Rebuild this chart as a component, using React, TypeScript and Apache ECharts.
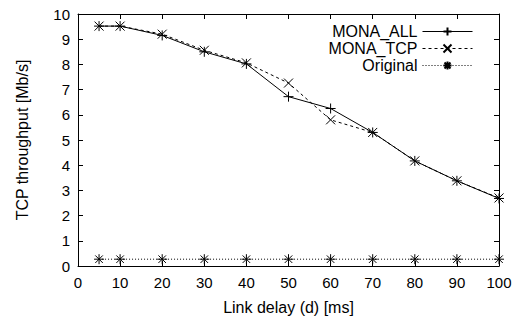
import React, { useEffect, useRef } from "react";
import * as echarts from "echarts";

const delays = [5, 10, 20, 30, 40, 50, 60, 70, 80, 90, 100];
const monaAll = [9.52, 9.52, 9.15, 8.5, 8.02, 6.72, 6.25, 5.3, 4.17, 3.38, 2.68];
const monaTcp = [9.52, 9.52, 9.2, 8.56, 8.06, 7.26, 5.8, 5.3, 4.17, 3.38, 2.7];
const original = [0.27, 0.27, 0.27, 0.27, 0.27, 0.27, 0.27, 0.27, 0.27, 0.27, 0.27];

const FONT = "'Liberation Sans', Arial, Helvetica, sans-serif";
const PLUS = "path://M0,-1L0,1M-1,0L1,0";
const CROSS = "path://M-1,-1L1,1M-1,1L1,-1";
const STAR = "path://M0,-1L0,1M-1,0L1,0M-0.75,-0.75L0.75,0.75M-0.75,0.75L0.75,-0.75";

export default function App() {
  const ref = useRef<HTMLDivElement>(null);
  useEffect(() => {
    if (!ref.current) return;
    const chart = echarts.init(ref.current, undefined, { renderer: "svg" });
    const pairs = (ys: number[]) => delays.map((x, i) => [x, ys[i]]);
    const mk = (name: string, ys: number[], symbol: string, size: number, type: any) => ({
      name,
      type: "line",
      data: pairs(ys),
      symbol,
      symbolSize: size,
      showSymbol: true,
      lineStyle: { color: "#000", width: 1, type },
      itemStyle: { color: "#000", borderColor: "#000", borderWidth: 1 },
      emphasis: { disabled: true },
      z: 3,
    });
    const tickStyle = { show: true, inside: true, length: 5, lineStyle: { color: "#000", width: 1 } };
    chart.setOption({
      animation: false,
      backgroundColor: "#fff",
      textStyle: { fontFamily: FONT },
      grid: { left: 78, right: 18, top: 14, bottom: 54, containLabel: false },
      legend: {
        orient: "vertical",
        right: 39,
        top: 18,
        align: "right",
        itemWidth: 50,
        itemHeight: 10,
        itemGap: 0,
        lineStyle: { width: 1 },
        textStyle: { fontFamily: FONT, fontSize: 16, color: "#000", lineHeight: 17 },
        data: ["MONA_ALL", "MONA_TCP", "Original"],
      },
      xAxis: [
        {
          type: "value",
          min: 0,
          max: 100,
          interval: 10,
          position: "bottom",
          name: "Link delay (d) [ms]",
          nameLocation: "middle",
          nameGap: 33,
          nameTextStyle: { fontFamily: FONT, fontSize: 16, color: "#000" },
          axisLine: { show: true, onZero: false, lineStyle: { color: "#000", width: 1 } },
          axisTick: tickStyle,
          axisLabel: { fontFamily: FONT, fontSize: 15, color: "#000", margin: 9 },
          splitLine: { show: false },
        },
        {
          type: "value",
          min: 0,
          max: 100,
          interval: 10,
          position: "top",
          axisLine: { show: true, onZero: false, lineStyle: { color: "#000", width: 1 } },
          axisTick: tickStyle,
          axisLabel: { show: false },
          splitLine: { show: false },
        },
      ],
      yAxis: [
        {
          type: "value",
          min: 0,
          max: 10,
          interval: 1,
          position: "left",
          name: "TCP throughput [Mb/s]",
          nameLocation: "middle",
          nameGap: 48,
          nameTextStyle: { fontFamily: FONT, fontSize: 16, color: "#000" },
          axisLine: { show: true, onZero: false, lineStyle: { color: "#000", width: 1 } },
          axisTick: tickStyle,
          axisLabel: { fontFamily: FONT, fontSize: 15, color: "#000", margin: 8 },
          splitLine: { show: false },
        },
        {
          type: "value",
          min: 0,
          max: 10,
          interval: 1,
          position: "right",
          axisLine: { show: true, onZero: false, lineStyle: { color: "#000", width: 1 } },
          axisTick: tickStyle,
          axisLabel: { show: false },
          splitLine: { show: false },
        },
      ],
      series: [
        mk("MONA_ALL", monaAll, PLUS, 10, "solid"),
        mk("MONA_TCP", monaTcp, CROSS, 9, [3, 3]),
        mk("Original", original, STAR, 10, [1, 2]),
      ],
    });
    return () => chart.dispose();
  }, []);
  return <div ref={ref} style={{ width: 517, height: 320, position: "absolute", left: 0, top: 0 }} />;
}
